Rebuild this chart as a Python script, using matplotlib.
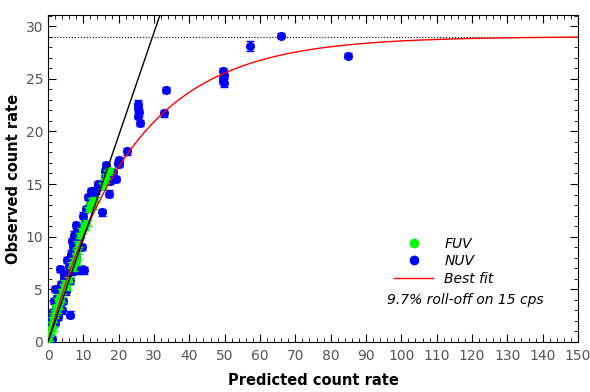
import numpy as np
import matplotlib.pyplot as plt
from matplotlib.lines import Line2D
from matplotlib.ticker import MultipleLocator

plt.rcParams['font.family'] = ['DejaVu Sans']

# FUV points (predicted, observed, error)
fuv_x = [0.2, 0.4, 0.6, 0.9, 1.1, 1.3, 1.6, 1.9, 2.2, 2.5, 2.8, 3.2, 3.6, 4.0, 4.4,
         4.8, 5.3, 6.0, 6.8, 7.3, 7.8, 8.3, 8.6, 9.1, 9.6, 10.1, 10.6, 11.0, 11.6,
         12.0, 12.4, 12.8, 13.3, 15.6, 16.0, 16.5, 16.9, 17.4, 8.1, 7.0, 3.0, 1.4]
fuv_y = [0.3, 0.8, 1.2, 1.0, 1.6, 2.1, 2.5, 2.8, 3.3, 3.0, 3.9, 4.3, 4.0, 4.8, 5.3,
         5.6, 5.2, 5.9, 7.3, 7.7, 8.2, 8.6, 9.3, 10.1, 10.6, 11.1, 10.9, 11.3, 12.6,
         13.0, 13.4, 12.9, 13.5, 14.8, 15.3, 15.7, 16.1, 16.3, 7.6, 7.0, 3.4, 1.3]
fuv_err = [0.25] * len(fuv_x)

# NUV points
nuv_x = [0.2, 0.5, 0.8, 1.2, 1.5, 1.9, 2.3, 2.7, 3.0, 3.3, 2.1, 3.8, 4.2, 4.6, 5.0,
         5.5, 6.2, 3.5, 5.9, 6.3, 6.8, 7.5, 8.5, 9.5, 10.3, 5.5, 6.5, 7.2, 8.0, 9.6,
         7.4, 8.2, 9.0, 8.0, 10.5, 9.9, 10.8, 11.2, 12.3, 13.6, 14.6, 15.3, 17.3,
         16.2, 16.0, 16.3, 16.5, 17.5, 18.5, 20.0, 20.2, 19.7, 19.2,
         1.0, 1.8, 2.6, 3.6, 4.4, 5.2, 4.0, 6.0, 6.9, 7.8, 8.8, 11.8, 13.0, 14.2,
         22.3, 25.5, 25.6, 25.7, 25.4, 26.0, 32.9, 33.5, 49.6, 49.7, 49.5, 49.6,
         49.8, 57.3, 65.9, 84.9]
nuv_y = [0.5, 2.2, 1.4, 0.3, 2.8, 1.8, 3.5, 2.4, 4.6, 3.2, 5.0, 5.5, 3.9, 6.0, 4.8,
         6.3, 2.6, 6.9, 7.1, 5.8, 6.7, 6.9, 6.8, 6.9, 6.8, 7.8, 8.4, 9.0, 8.0, 9.0,
         10.2, 10.6, 10.3, 11.1, 11.3, 12.0, 12.6, 13.8, 14.3, 14.4, 14.8, 12.3, 14.1,
         15.6, 16.2, 16.8, 16.5, 15.3, 16.1, 17.3, 16.9, 17.0, 15.5,
         1.9, 3.9, 4.2, 4.9, 6.4, 5.6, 3.0, 7.6, 9.6, 9.4, 10.0, 12.9, 14.2, 15.0,
         18.1, 22.6, 22.2, 21.8, 21.5, 20.8, 21.7, 23.9, 25.7, 25.4, 25.1, 24.8,
         24.6, 28.1, 29.1, 27.2]
nuv_err = [0.3] * 67 + [0.3, 0.4, 0.3, 0.3, 0.3, 0.3, 0.3, 0.3, 0.3, 0.3, 0.3,
                        0.3, 0.4, 0.5, 0.2, 0.25]

# saturation fit
fit_max = 29.0
fit_scale = 23.5

fig = plt.figure(figsize=(5.9, 3.92), dpi=100)
ax = fig.add_axes([0.0814, 0.1276, 0.8983, 0.8341])

ax.errorbar(nuv_x, nuv_y, yerr=nuv_err, fmt='o', color='#0000ff', ms=5.5,
            mec='#0000ff', ecolor='#0000ff', elinewidth=1, capsize=3, zorder=3)
ax.errorbar(fuv_x, fuv_y, yerr=fuv_err, fmt='o', color='#00ff00', ms=4,
            mec='#00ff00', ecolor='#00ff00', elinewidth=1, capsize=3.5, zorder=4)

xx = np.linspace(0, 150, 600)
ax.plot(xx, fit_max * (1 - np.exp(-xx / fit_scale)), color='red', lw=1, zorder=5)
ax.plot([0, 40], [0, 40 * 0.98], color='black', lw=1, zorder=5)
ax.axhline(fit_max, color='black', ls=':', lw=0.8)

ax.set_xlim(0, 150)
ax.set_ylim(0, 31.05)
ax.xaxis.set_major_locator(MultipleLocator(10))
ax.xaxis.set_minor_locator(MultipleLocator(2))
ax.yaxis.set_major_locator(MultipleLocator(5))
ax.yaxis.set_minor_locator(MultipleLocator(1))
ax.tick_params(which='both', direction='in', top=True, right=True,
               labelsize=10, labelcolor='#555555')
ax.tick_params(which='major', length=6)
ax.tick_params(which='minor', length=3)
ax.tick_params(axis='x', pad=5)

ax.set_xlabel('Predicted count rate', fontsize=10.5, fontweight='bold', labelpad=7)
ax.set_ylabel('Observed count rate', fontsize=10.5, fontweight='bold', labelpad=3)

handles = [Line2D([], [], ls='', marker='o', color='#00ff00', ms=6),
           Line2D([], [], ls='', marker='o', color='#0000ff', ms=6),
           Line2D([], [], color='red', lw=1)]
ax.legend(handles, ['FUV', 'NUV', 'Best fit'], loc='upper left',
          bbox_to_anchor=(0.63, 0.36), frameon=False,
          prop={'style': 'italic', 'size': 10}, handlelength=2.8,
          labelspacing=0.25, handletextpad=0.8)
ax.text(0.64, 0.115, '9.7% roll-off on 15 cps', transform=ax.transAxes,
        fontsize=10, style='italic')

fig.savefig('out.png', dpi=100)
